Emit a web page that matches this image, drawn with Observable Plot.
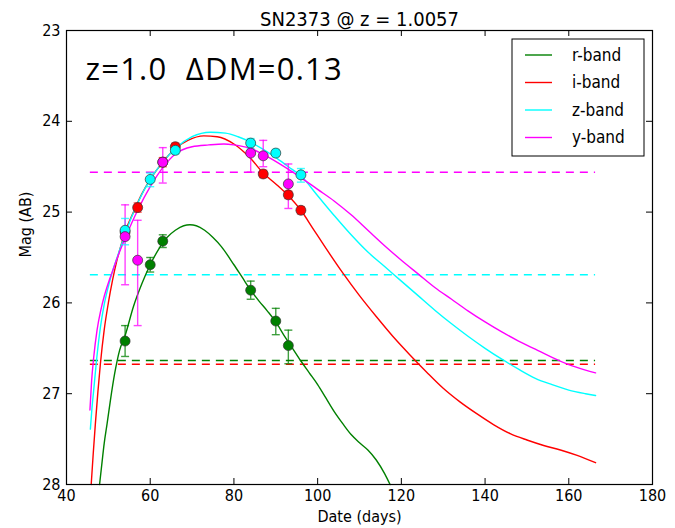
<!DOCTYPE html>
<html>
<head>
<meta charset="utf-8">
<script src="https://cdn.jsdelivr.net/npm/d3@7"></script>
<script src="https://cdn.jsdelivr.net/npm/@observablehq/plot@0.6"></script>
<style>
  html, body { margin: 0; padding: 0; background: #fff; }
  #chart { width: 675px; height: 528px; }
</style>
</head>
<body>
<div id="chart"></div>
<script>
// ---------- data ----------
const title = "SN2373 @ z = 1.0057";
const annotation = "z=1.0  \u0394DM=0.13";
const xLabel = "Date (days)";
const yLabel = "Mag (AB)";
const bands = ["r-band", "i-band", "z-band", "y-band"];
const bandColors = ["#008000", "#ff0000", "#00ffff", "#ff00ff"];
const xTicks = [40, 60, 80, 100, 120, 140, 160, 180];
const yTicks = [23, 24, 25, 26, 27, 28];

// observations (day, mag, bright-side error, faint-side error)
const rDays = [54, 60, 63, 84, 90, 93];
const rMag  = [26.42, 25.58, 25.32, 25.86, 26.20, 26.47];
const rErrB = [0.17, 0.08, 0.07, 0.10, 0.14, 0.17];
const rErrF = [0.17, 0.08, 0.07, 0.10, 0.15, 0.20];

const iDays = [54, 57, 63, 66, 87, 93, 96];
const iMag  = [25.22, 24.95, 24.45, 24.28, 24.58, 24.81, 24.98];
const iErrB = [0.05, 0.05, 0.05, 0.04, 0.04, 0.04, 0.04];
const iErrF = [0.05, 0.05, 0.05, 0.04, 0.04, 0.04, 0.04];

const zDays = [54, 60, 66, 84, 90, 96];
const zMag  = [25.20, 24.64, 24.32, 24.24, 24.35, 24.59];
const zErrB = [0.13, 0.07, 0.04, 0.05, 0.04, 0.07];
const zErrF = [0.16, 0.08, 0.04, 0.06, 0.04, 0.08];

const yDays = [54, 57, 63, 84, 87, 93];
const yMag  = [25.27, 25.53, 24.45, 24.35, 24.38, 24.69];
const yErrB = [0.35, 0.44, 0.16, 0.14, 0.17, 0.22];
const yErrF = [0.53, 0.72, 0.23, 0.21, 0.12, 0.27];

// model light curves
const rCurveDays = [47.9, 48.5, 49, 49.7, 50.5, 51.5, 52.7, 54, 56, 58, 60, 62, 64, 66, 68, 69.5, 71, 73, 75, 77, 80, 82, 84, 86, 88, 90, 92, 94, 96, 98, 100, 102, 104, 106, 108, 110, 112, 114, 116, 117.3];
const rCurveMag  = [28.0, 27.75, 27.55, 27.33, 27.07, 26.78, 26.52, 26.36, 26.04, 25.79, 25.58, 25.41, 25.28, 25.2, 25.15, 25.14, 25.15, 25.2, 25.28, 25.38, 25.58, 25.72, 25.86, 25.98, 26.09, 26.21, 26.36, 26.5, 26.64, 26.77, 26.9, 27.05, 27.2, 27.33, 27.45, 27.54, 27.62, 27.73, 27.88, 28.0];

const iCurveDays = [45.9, 46.4, 46.9, 47.5, 48.1, 49, 50, 51, 52, 53, 54, 56, 58, 60, 63, 66, 69, 72.8, 76, 80, 84, 87, 90, 93, 96, 99, 102, 106, 110, 114, 118, 122, 126, 130, 134, 138, 142, 146, 150, 154, 158, 162, 166.4];
const iCurveMag  = [28.0, 27.65, 27.33, 26.98, 26.67, 26.3, 26.0, 25.75, 25.54, 25.37, 25.22, 25.0, 24.8, 24.64, 24.45, 24.3, 24.21, 24.16, 24.17, 24.25, 24.41, 24.57, 24.69, 24.82, 24.98, 25.19, 25.4, 25.67, 25.92, 26.15, 26.37, 26.57, 26.76, 26.94, 27.09, 27.22, 27.34, 27.44, 27.51, 27.57, 27.62, 27.68, 27.76];

const zCurveDays = [45.7, 46.1, 46.5, 47.2, 48.1, 49, 50, 51, 52.1, 54, 57, 60, 63, 66, 70, 74.4, 78, 81, 84, 87, 90, 93, 96, 100, 104, 108, 112, 116, 120, 124, 128, 132, 136, 140, 144, 148, 152, 156, 160, 164, 166.4];
const zCurveMag  = [27.39, 27.15, 26.96, 26.62, 26.27, 26.02, 25.82, 25.65, 25.5, 25.24, 24.9, 24.64, 24.45, 24.3, 24.17, 24.12, 24.13, 24.17, 24.23, 24.31, 24.4, 24.5, 24.6, 24.82, 25.04, 25.25, 25.44, 25.6, 25.76, 25.92, 26.08, 26.23, 26.37, 26.5, 26.62, 26.73, 26.83, 26.9, 26.96, 27.0, 27.02];

const yCurveDays = [45.6, 46, 46.5, 47.3, 48.2, 49, 50, 51, 52, 54, 57, 60, 63, 66, 70, 74, 77.6, 80, 84, 88, 92, 96, 100, 104, 108, 112, 116, 120, 124, 128, 132, 136, 140, 144, 148, 152, 156, 160, 164, 166.4];
const yCurveMag  = [27.18, 26.86, 26.6, 26.3, 26.08, 25.93, 25.78, 25.65, 25.52, 25.29, 24.98, 24.72, 24.51, 24.36, 24.28, 24.26, 24.25, 24.26, 24.3, 24.39, 24.5, 24.62, 24.75, 24.88, 25.03, 25.2, 25.37, 25.53, 25.68, 25.83, 25.96, 26.09, 26.21, 26.32, 26.42, 26.51, 26.6, 26.68, 26.74, 26.77];

// detection limits (dashed)
const limitBands = ["y-band", "z-band", "r-band", "i-band"];
const limitMag   = [24.56, 25.69, 26.635, 26.675];
const limitDays  = [45.7, 166.4];

// ---------- build tables ----------
const obsSets = [
  [rDays, rMag, rErrB, rErrF],
  [iDays, iMag, iErrB, iErrF],
  [zDays, zMag, zErrB, zErrF],
  [yDays, yMag, yErrB, yErrF]
];
const obs = [];
obsSets.forEach(([d, m, eb, ef], k) => {
  d.forEach((day, j) => obs.push({band: bands[k], day, mag: m[j], lo: m[j] - eb[j], hi: m[j] + ef[j]}));
});
const curveSets = [[rCurveDays, rCurveMag], [iCurveDays, iCurveMag], [zCurveDays, zCurveMag], [yCurveDays, yCurveMag]];
const curves = [];
curveSets.forEach(([d, m], k) => d.forEach((day, j) => curves.push({band: bands[k], day, mag: m[j]})));
const limits = limitBands.map((b, i) => ({band: b, mag: limitMag[i], x1: limitDays[0], x2: limitDays[1]}));

const cap = {
  draw(ctx, size) {
    const w = Math.sqrt(size / Math.PI);
    ctx.moveTo(-w, 0); ctx.lineTo(w, 0);
  }
};

const W = 675, H = 528, mL = 66, mR = 23, mT = 30, mB = 44;
const innerW = W - mL - mR, innerH = H - mT - mB;
const tickLen = 6;
const font = "'DejaVu Sans Condensed', 'DejaVu Sans', sans-serif";

const plot = Plot.plot({
  width: W, height: H,
  marginLeft: mL, marginRight: mR, marginTop: mT, marginBottom: mB,
  style: {fontFamily: font, fontStretch: "condensed", background: "#fff", color: "#000"},
  x: {domain: [40, 180]},
  y: {domain: [23, 28], reverse: true},
  color: {domain: bands, range: bandColors},
  marks: [
    Plot.ruleY(limits, {y: "mag", x1: "x1", x2: "x2", stroke: "band", strokeWidth: 1.5, strokeDasharray: "8,6"}),
    Plot.line(curves, {x: "day", y: "mag", z: "band", stroke: "band", strokeWidth: 1.4, curve: "monotone-x"}),
    Plot.ruleX(obs, {x: "day", y1: "lo", y2: "hi", stroke: "band", strokeWidth: 1.4, strokeOpacity: 0.75}),
    Plot.dot(obs, {x: "day", y: "lo", symbol: cap, r: 4, stroke: "band", strokeWidth: 1.4, strokeOpacity: 0.75}),
    Plot.dot(obs, {x: "day", y: "hi", symbol: cap, r: 4, stroke: "band", strokeWidth: 1.4, strokeOpacity: 0.75}),
    Plot.dot(obs, {x: "day", y: "mag", fill: "band", stroke: "#333", strokeWidth: 0.7, r: 5}),
    // inward ticks on all four sides
    Plot.tickX(xTicks, {x: d => d, insetTop: innerH - tickLen, stroke: "#000", strokeWidth: 1}),
    Plot.tickX(xTicks, {x: d => d, insetBottom: innerH - tickLen, stroke: "#000", strokeWidth: 1}),
    Plot.tickY(yTicks, {y: d => d, insetRight: innerW - tickLen, stroke: "#000", strokeWidth: 1}),
    Plot.tickY(yTicks, {y: d => d, insetLeft: innerW - tickLen, stroke: "#000", strokeWidth: 1}),
    Plot.frame({stroke: "#000", strokeWidth: 1.2}),
    Plot.axisX({ticks: xTicks, tickSize: 0, tickPadding: 5, fontSize: 16, label: null, tickFormat: d => String(d)}),
    Plot.axisY({ticks: yTicks, tickSize: 0, tickPadding: 6, fontSize: 16, label: null, tickFormat: d => String(d)}),
    Plot.text([xLabel], {frameAnchor: "bottom", dy: 37, fontSize: 16, fill: "#000"}),
    Plot.text([yLabel], {frameAnchor: "left", dx: -41, rotate: -90, fontSize: 16, fill: "#000"}),
    Plot.text([title], {frameAnchor: "top", dy: -19, fontSize: 20, fill: "#000"}),
    Plot.text([annotation], {frameAnchor: "top-left", textAnchor: "start", dx: 19, dy: 40, lineAnchor: "middle", fontSize: 31, fontFamily: "'Open Sans', Lato, sans-serif", fill: "#000", className: "annot"})
  ]
});

// the big annotation uses a normal-width font, keeps its double space
d3.select(plot).selectAll("g.annot, g.annot text")
  .style("font-stretch", "normal")
  .style("white-space", "pre")
  .style("letter-spacing", "1.2px");

// legend (drawn into the plot's svg)
const svg = d3.select(plot);
const lg = svg.append("g").attr("font-family", font).attr("font-stretch", "condensed").attr("text-anchor", "start");
const boxX = W - mR - 140, boxY = mT + 9, boxW = 132, boxH = 117;
lg.append("rect").attr("x", boxX).attr("y", boxY).attr("width", boxW).attr("height", boxH)
  .attr("fill", "#fff").attr("stroke", "#000").attr("stroke-width", 1);
bands.forEach((b, i) => {
  const cy = boxY + 16 + i * 27.5;
  lg.append("line").attr("x1", boxX + 13).attr("x2", boxX + 40).attr("y1", cy).attr("y2", cy)
    .attr("stroke", bandColors[i]).attr("stroke-width", 1.4);
  lg.append("text").attr("x", boxX + 60).attr("y", cy).attr("dy", "0.35em")
    .attr("text-anchor", "start")
    .attr("font-size", 17).attr("fill", "#000").text(b);
});

document.getElementById("chart").appendChild(plot);
</script>
</body>
</html>
